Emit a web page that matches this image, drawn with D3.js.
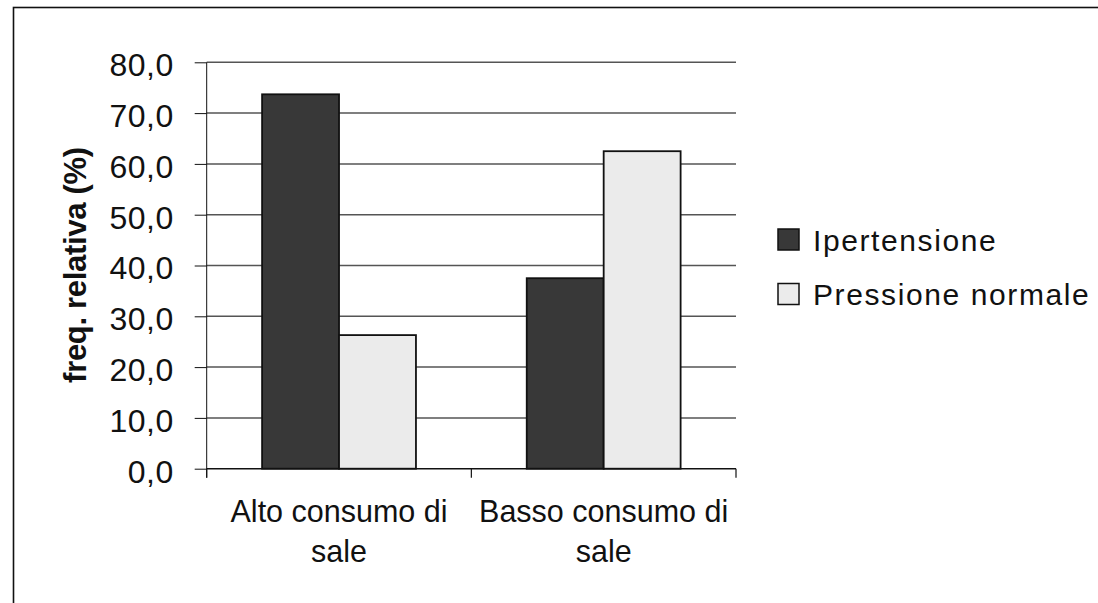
<!DOCTYPE html>
<html>
<head>
<meta charset="utf-8">
<script src="https://cdn.jsdelivr.net/npm/d3@7"></script>
<style>
  html, body { margin: 0; padding: 0; background: #fff; }
  svg { display: block; font-family: "Liberation Sans", Arial, sans-serif; }
</style>
</head>
<body>
<svg id="chart" width="1098" height="603"></svg>
<script>
// Relative frequency (%) of hypertension by salt consumption
const categories = [["Alto consumo di", "sale"], ["Basso consumo di", "sale"]];
const seriesNames = ["Ipertensione", "Pressione normale"];
const ipertensione = [73.7, 37.5];
const pressioneNormale = [26.3, 62.5];
const yTicks = [0, 10, 20, 30, 40, 50, 60, 70, 80];
const yTitle = "freq. relativa (%)";

const seriesValues = [ipertensione, pressioneNormale];
const colors = ["#383838", "#ebebeb"];

const svg = d3.select("#chart");

// outer frame (runs off the right and bottom edges)
svg.append("rect")
  .attr("x", 13.5).attr("y", 7.5)
  .attr("width", 1200).attr("height", 700)
  .attr("fill", "#fff").attr("stroke", "#111").attr("stroke-width", 1.6);

const plotLeft = 206.7, plotRight = 736, plotTop = 62.3, plotBottom = 468.7;

const y = d3.scaleLinear().domain([0, 80]).range([plotBottom, plotTop]);
const x = d3.scaleBand().domain(d3.range(categories.length)).range([plotLeft, plotRight]);
const xs = d3.scaleBand().domain(d3.range(seriesNames.length))
  .range([0, x.bandwidth()]).paddingInner(0).paddingOuter(0.72);

// horizontal gridlines
svg.append("g").selectAll("line")
  .data(yTicks.filter(d => d > 0))
  .join("line")
  .attr("x1", plotLeft).attr("x2", plotRight)
  .attr("y1", d => y(d)).attr("y2", d => y(d))
  .attr("stroke", "#555").attr("stroke-width", 1.5);

// bars
const groups = svg.append("g").selectAll("g")
  .data(categories.map((c, i) => i))
  .join("g")
  .attr("transform", i => `translate(${x(i)},0)`);

groups.selectAll("rect")
  .data(i => seriesValues.map((vals, s) => ({ s, v: vals[i] })))
  .join("rect")
  .attr("x", d => xs(d.s))
  .attr("width", xs.bandwidth())
  .attr("y", d => y(d.v))
  .attr("height", d => y(0) - y(d.v))
  .attr("fill", d => colors[d.s])
  .attr("stroke", "#111").attr("stroke-width", 1.8);

// y axis
const yAxis = d3.axisLeft(y).tickValues(yTicks)
  .tickSize(12).tickPadding(21)
  .tickFormat(d => d3.format(".1f")(d).replace(".", ","));
const gy = svg.append("g").attr("transform", `translate(${plotLeft},0)`).call(yAxis);
gy.select(".domain").attr("stroke", "#111").attr("d", `M0,${plotTop}V${plotBottom + 9}`);
gy.selectAll(".tick line").attr("stroke", "#111");
gy.selectAll(".tick text")
  .attr("font-size", 32).attr("fill", "#111")
  .attr("letter-spacing", 0.5).attr("dy", "0.42em");

// x axis with ticks at category boundaries
svg.append("line")
  .attr("x1", plotLeft).attr("x2", plotRight)
  .attr("y1", plotBottom).attr("y2", plotBottom)
  .attr("stroke", "#111").attr("stroke-width", 1.5);
const bounds = x.domain().map(i => x(i)).concat([plotRight]);
svg.append("g").selectAll("line")
  .data(bounds)
  .join("line")
  .attr("x1", d => d).attr("x2", d => d)
  .attr("y1", plotBottom).attr("y2", plotBottom + 9)
  .attr("stroke", "#111").attr("stroke-width", 1.2);

// category labels
const labels = svg.append("g").selectAll("text")
  .data(categories.map((c, i) => ({ c, i })))
  .join("text")
  .attr("text-anchor", "middle")
  .attr("font-size", 30.5).attr("fill", "#111")
  .attr("x", d => x(d.i) + x.bandwidth() / 2)
  .attr("y", 522.3);
labels.selectAll("tspan")
  .data(d => d.c.map((line, k) => ({ line, k, cx: x(d.i) + x.bandwidth() / 2 })))
  .join("tspan")
  .attr("x", d => d.cx)
  .attr("dy", d => d.k === 0 ? 0 : 39.4)
  .text(d => d.line);

// y axis title
svg.append("text")
  .attr("transform", "translate(86,265) rotate(-90)")
  .attr("text-anchor", "middle")
  .attr("font-size", 31).attr("font-weight", "bold").attr("fill", "#111")
  .attr("letter-spacing", -0.3)
  .text(yTitle);

// legend
const legend = svg.append("g").selectAll("g")
  .data(seriesNames.map((n, i) => ({ n, i })))
  .join("g")
  .attr("transform", d => `translate(778,${229 + d.i * 54.5})`);
legend.append("rect")
  .attr("width", 21).attr("height", 21)
  .attr("fill", d => colors[d.i])
  .attr("stroke", "#111").attr("stroke-width", 1.5);
legend.append("text")
  .attr("x", 35).attr("y", 21.5)
  .attr("font-size", 30).attr("fill", "#111")
  .attr("letter-spacing", 1.6)
  .text(d => d.n);
</script>
</body>
</html>
